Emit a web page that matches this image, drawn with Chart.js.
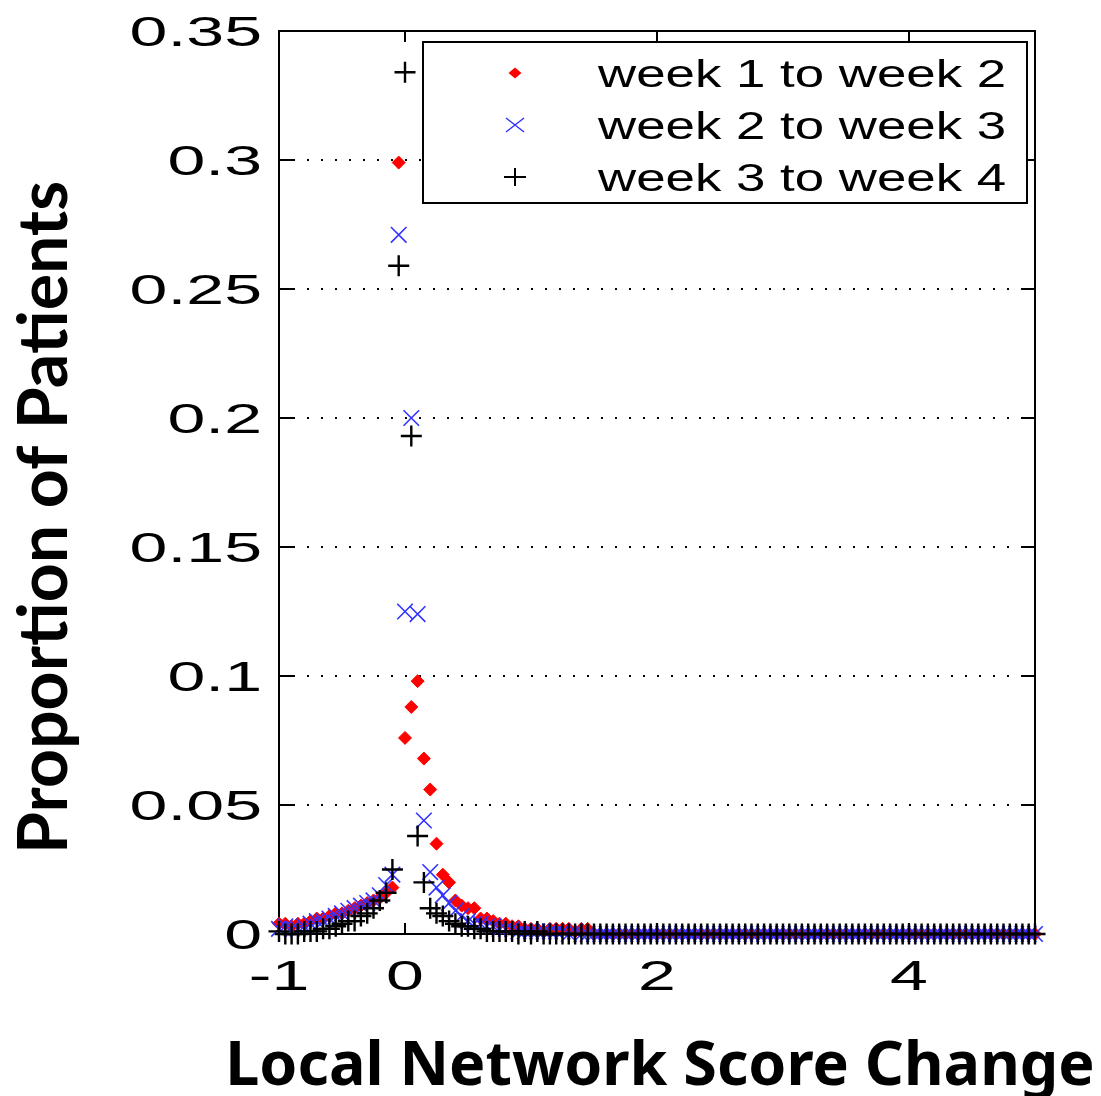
<!DOCTYPE html>
<html>
<head>
<meta charset="utf-8">
<script src="https://cdn.jsdelivr.net/npm/chart.js@4.4.1/dist/chart.umd.min.js"></script>
<style>
  html, body { margin: 0; padding: 0; background: #fff; }
  canvas { display: block; }
</style>
</head>
<body>
<canvas id="chart" width="1101" height="1096"></canvas>
<script>
// bin centres of the score change (x axis)
const scoreChange = [
  -1.00, -0.95, -0.90, -0.85, -0.80, -0.75, -0.70, -0.65, -0.60, -0.55,
  -0.50, -0.45, -0.40, -0.35, -0.30, -0.25, -0.20, -0.15, -0.10, -0.05,
  0.00, 0.05, 0.10, 0.15, 0.20, 0.25, 0.30, 0.35, 0.40, 0.45,
  0.50, 0.55, 0.60, 0.65, 0.70, 0.75, 0.80, 0.85, 0.90, 0.95,
  1.00, 1.05, 1.10, 1.15, 1.20, 1.25, 1.30, 1.35, 1.40, 1.45,
  1.50, 1.55, 1.60, 1.65, 1.70, 1.75, 1.80, 1.85, 1.90, 1.95,
  2.00, 2.05, 2.10, 2.15, 2.20, 2.25, 2.30, 2.35, 2.40, 2.45,
  2.50, 2.55, 2.60, 2.65, 2.70, 2.75, 2.80, 2.85, 2.90, 2.95,
  3.00, 3.05, 3.10, 3.15, 3.20, 3.25, 3.30, 3.35, 3.40, 3.45,
  3.50, 3.55, 3.60, 3.65, 3.70, 3.75, 3.80, 3.85, 3.90, 3.95,
  4.00, 4.05, 4.10, 4.15, 4.20, 4.25, 4.30, 4.35, 4.40, 4.45,
  4.50, 4.55, 4.60, 4.65, 4.70, 4.75, 4.80, 4.85, 4.90, 4.95,
  5.00
];

const week1to2 = [
  0.004, 0.004, 0.003, 0.004, 0.004, 0.005, 0.006, 0.006, 0.007, 0.008,
  0.008, 0.009, 0.010, 0.011, 0.012, 0.013, 0.014, 0.016, 0.018, 0.299,
  0.076, 0.088, 0.098, 0.068, 0.056, 0.035, 0.023, 0.020, 0.013, 0.011,
  0.010, 0.010, 0.006, 0.006, 0.005, 0.004, 0.004, 0.003, 0.003, 0.002,
  0.002, 0.002, 0.001, 0.002, 0.002, 0.002, 0.002, 0.001, 0.002, 0.002,
  0.000, 0.000, 0.000, 0.000, 0.000, 0.000, 0.000, 0.000, 0.000, 0.000,
  0.000, 0.000, 0.000, 0.000, 0.000, 0.000, 0.000, 0.000, 0.000, 0.000,
  0.000, 0.000, 0.000, 0.000, 0.000, 0.000, 0.000, 0.000, 0.000, 0.000,
  0.000, 0.000, 0.000, 0.000, 0.000, 0.000, 0.000, 0.000, 0.000, 0.000,
  0.000, 0.000, 0.000, 0.000, 0.000, 0.000, 0.000, 0.000, 0.000, 0.000,
  0.000, 0.000, 0.000, 0.000, 0.000, 0.000, 0.000, 0.000, 0.000, 0.000,
  0.000, 0.000, 0.000, 0.000, 0.000, 0.000, 0.000, 0.000, 0.000, 0.000,
  0.000
];

const week2to3 = [
  0.002, 0.003, 0.002, 0.002, 0.003, 0.004, 0.005, 0.005, 0.006, 0.007,
  0.008, 0.009, 0.010, 0.011, 0.012, 0.013, 0.015, 0.019, 0.023, 0.271,
  0.125, 0.200, 0.124, 0.044, 0.024, 0.018, 0.015, 0.012, 0.009, 0.007,
  0.005, 0.004, 0.004, 0.003, 0.003, 0.002, 0.002, 0.002, 0.001, 0.001,
  0.001, 0.001, 0.001, 0.001, 0.001, 0.001, 0.000, 0.001, 0.000, 0.000,
  0.000, 0.000, 0.000, 0.000, 0.000, 0.000, 0.000, 0.000, 0.000, 0.000,
  0.000, 0.000, 0.000, 0.000, 0.000, 0.000, 0.000, 0.000, 0.000, 0.000,
  0.000, 0.000, 0.000, 0.000, 0.000, 0.000, 0.000, 0.000, 0.000, 0.000,
  0.000, 0.000, 0.000, 0.000, 0.000, 0.000, 0.000, 0.000, 0.000, 0.000,
  0.000, 0.000, 0.000, 0.000, 0.000, 0.000, 0.000, 0.000, 0.000, 0.000,
  0.000, 0.000, 0.000, 0.000, 0.000, 0.000, 0.000, 0.000, 0.000, 0.000,
  0.000, 0.000, 0.000, 0.000, 0.000, 0.000, 0.000, 0.000, 0.000, 0.000,
  0.000
];

const week3to4 = [
  0.001, 0.000, 0.000, 0.000, 0.001, 0.001, 0.001, 0.002, 0.002, 0.003,
  0.004, 0.005, 0.005, 0.007, 0.008, 0.010, 0.013, 0.016, 0.025, 0.259,
  0.334, 0.193, 0.038, 0.020, 0.010, 0.008, 0.007, 0.005, 0.004, 0.003,
  0.003, 0.002, 0.002, 0.001, 0.001, 0.001, 0.001, 0.001, 0.000, 0.001,
  0.000, 0.001, 0.000, 0.000, 0.000, 0.000, 0.000, 0.000, 0.000, 0.000,
  0.000, 0.000, 0.000, 0.000, 0.000, 0.000, 0.000, 0.000, 0.000, 0.000,
  0.000, 0.000, 0.000, 0.000, 0.000, 0.000, 0.000, 0.000, 0.000, 0.000,
  0.000, 0.000, 0.000, 0.000, 0.000, 0.000, 0.000, 0.000, 0.000, 0.000,
  0.000, 0.000, 0.000, 0.000, 0.000, 0.000, 0.000, 0.000, 0.000, 0.000,
  0.000, 0.000, 0.000, 0.000, 0.000, 0.000, 0.000, 0.000, 0.000, 0.000,
  0.000, 0.000, 0.000, 0.000, 0.000, 0.000, 0.000, 0.000, 0.000, 0.000,
  0.000, 0.000, 0.000, 0.000, 0.000, 0.000, 0.000, 0.000, 0.000, 0.000,
  0.000
];

const seriesLabels = ['week 1 to week 2', 'week 2 to week 3', 'week 3 to week 4'];
const xTickValues = [-1, 0, 2, 4];
const xTickLabels = ['-1', '0', '2', '4'];
const yTickValues = [0, 0.05, 0.1, 0.15, 0.2, 0.25, 0.3, 0.35];
const yTickLabels = ['0', '0.05', '0.1', '0.15', '0.2', '0.25', '0.3', '0.35'];
const yTitle = 'Proportion of Patients';
const xTitle = 'Local Network Score Change';

function toPoints(values) {
  return scoreChange.map((x, i) => ({ x, y: values[i] }));
}

// the original figure is stretched sideways, so the labels are too
function wideText(ctx, text, x, y, align, sx) {
  ctx.save();
  ctx.translate(x, y);
  ctx.scale(sx, 1);
  ctx.textAlign = align;
  ctx.fillText(text, 0, 0);
  ctx.restore();
}

// box around the axes + inward tick marks on all four sides (matlab style)
const frameAndTicks = {
  id: 'frameAndTicks',
  beforeDatasetsDraw(chart) {
    const { ctx, chartArea: a, scales: { x, y } } = chart;
    ctx.save();
    ctx.strokeStyle = '#000';
    ctx.lineWidth = 2;
    ctx.strokeRect(a.left, a.top, a.right - a.left, a.bottom - a.top);
    ctx.beginPath();
    xTickValues.forEach(v => {
      const px = x.getPixelForValue(v);
      ctx.moveTo(px, a.bottom); ctx.lineTo(px, a.bottom - 11);
      ctx.moveTo(px, a.top); ctx.lineTo(px, a.top + 11);
    });
    yTickValues.forEach(v => {
      const py = y.getPixelForValue(v);
      ctx.moveTo(a.left, py); ctx.lineTo(a.left + 14, py);
      ctx.moveTo(a.right, py); ctx.lineTo(a.right - 14, py);
    });
    ctx.stroke();

    // tick labels, placed with the chart scales
    ctx.fillStyle = '#000';
    ctx.font = '42px "Liberation Sans"';
    ctx.textBaseline = 'alphabetic';
    yTickValues.forEach((v, i) => {
      wideText(ctx, yTickLabels[i], a.left - 17, y.getPixelForValue(v) + 15, 'right', 1.62);
    });
    xTickValues.forEach((v, i) => {
      wideText(ctx, xTickLabels[i], x.getPixelForValue(v), a.bottom + 56, 'center', 1.62);
    });

    // axis titles
    ctx.font = 'bold 68px Lato';
    ctx.textBaseline = 'middle';
    ctx.textAlign = 'center';
    ctx.save();
    ctx.translate(45, (a.top + a.bottom) / 2 + 35);
    ctx.rotate(-Math.PI / 2);
    ctx.fillText(yTitle, 0, 0);
    ctx.restore();
    ctx.font = 'bold 61px "Noto Sans"';
    ctx.textBaseline = 'alphabetic';
    wideText(ctx, xTitle, (a.left + a.right) / 2 + 3, 1085, 'center', 1);
    ctx.restore();
  }
};

function drawMarker(ctx, style, cx, cy) {
  ctx.beginPath();
  if (style === 'rectRot') {
    ctx.fillStyle = '#ff0000';
    ctx.moveTo(cx - 6.5, cy); ctx.lineTo(cx, cy - 5.5);
    ctx.lineTo(cx + 6.5, cy); ctx.lineTo(cx, cy + 5.5);
    ctx.closePath();
    ctx.fill();
  } else if (style === 'crossRot') {
    ctx.strokeStyle = '#3333ff';
    ctx.lineWidth = 1.5;
    ctx.moveTo(cx - 9, cy - 7); ctx.lineTo(cx + 9, cy + 7);
    ctx.moveTo(cx - 9, cy + 7); ctx.lineTo(cx + 9, cy - 7);
    ctx.stroke();
  } else {
    ctx.strokeStyle = '#000';
    ctx.lineWidth = 2;
    ctx.moveTo(cx - 11, cy); ctx.lineTo(cx + 11, cy);
    ctx.moveTo(cx, cy - 9); ctx.lineTo(cx, cy + 9);
    ctx.stroke();
  }
}

// legend with a frame, sitting inside the plot at the top right
const boxLegend = {
  id: 'boxLegend',
  afterDatasetsDraw(chart) {
    const { ctx, chartArea: a } = chart;
    const left = a.left + 144, top = a.top + 11;
    const right = a.right - 8, bottom = a.top + 172;
    ctx.save();
    ctx.fillStyle = '#fff';
    ctx.fillRect(left, top, right - left, bottom - top);
    ctx.strokeStyle = '#000';
    ctx.lineWidth = 2;
    ctx.strokeRect(left, top, right - left, bottom - top);
    const rowY = [top + 31, top + 83, top + 135];
    chart.data.datasets.forEach((ds, i) => {
      drawMarker(ctx, ds.pointStyle, left + 92, rowY[i]);
      ctx.fillStyle = '#000';
      ctx.font = '38px "Liberation Sans"';
      ctx.textBaseline = 'alphabetic';
      wideText(ctx, ds.label, left + 175, rowY[i] + 14, 'left', 1.39);
    });
    ctx.restore();
  }
};

new Chart(document.getElementById('chart'), {
  type: 'scatter',
  data: {
    datasets: [{
      label: seriesLabels[0],
      data: toPoints(week1to2),
      pointStyle: 'rectRot',
      pointRadius: 6.5,
      backgroundColor: '#ff0000',
      borderColor: '#ff0000',
      borderWidth: 1,
      order: 3,
      clip: false
    }, {
      label: seriesLabels[1],
      data: toPoints(week2to3),
      pointStyle: 'crossRot',
      pointRadius: 11,
      backgroundColor: '#3333ff',
      borderColor: '#3333ff',
      borderWidth: 1.6,
      order: 2,
      clip: false
    }, {
      label: seriesLabels[2],
      data: toPoints(week3to4),
      pointStyle: 'cross',
      pointRadius: 10.5,
      backgroundColor: '#000',
      borderColor: '#000',
      borderWidth: 2.4,
      order: 1,
      clip: false
    }]
  },
  options: {
    responsive: false,
    animation: false,
    layout: { padding: { left: 0, top: 31, right: 66, bottom: 0 } },
    plugins: {
      legend: { display: false },
      tooltip: { enabled: false }
    },
    scales: {
      x: {
        type: 'linear',
        min: -1,
        max: 5,
        afterBuildTicks: s => { s.ticks = xTickValues.map(v => ({ value: v })); },
        afterFit: s => { s.height = 162; s.paddingLeft = 0; s.paddingRight = 0; },
        ticks: { display: false },
        grid: { display: false, drawTicks: false },
        border: { display: false }
      },
      y: {
        min: 0,
        max: 0.35,
        afterBuildTicks: s => { s.ticks = yTickValues.map(v => ({ value: v })); },
        afterFit: s => { s.width = 279; s.paddingTop = 0; s.paddingBottom = 0; },
        ticks: { display: false },
        grid: {
          drawTicks: false,
          lineWidth: 2,
          color: c => (c.tick && (c.tick.value === 0 || c.tick.value === 0.35)) ? 'rgba(0,0,0,0)' : '#000'
        },
        border: { display: false, dash: [2, 12] }
      }
    }
  },
  plugins: [frameAndTicks, boxLegend]
});
</script>
</body>
</html>
